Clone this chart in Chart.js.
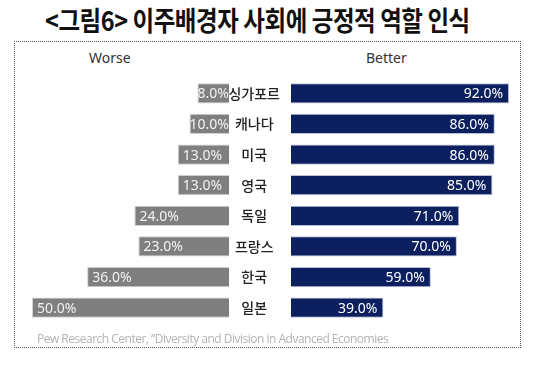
<!DOCTYPE html>
<html>
<head>
<meta charset="utf-8">
<script src="https://cdn.jsdelivr.net/npm/chart.js@4"></script>
<style>
  body { margin: 0; width: 541px; height: 367px; background: #fff; position: relative; overflow: hidden; font-family: "Noto Sans CJK KR", "Noto Sans", sans-serif; }
  #title { position: absolute; left: 45px; top: 0px; font-size: 27px; font-weight: 700; color: #111; white-space: nowrap; transform-origin: left top; transform: scaleX(0.87); letter-spacing: -0.5px; }
  #box { position: absolute; left: 14px; top: 41px; width: 505px; height: 305px; border: 1px dotted #555; }
  .head { position: absolute; top: 48px; font-family: "Noto Sans", sans-serif; font-size: 14px; color: #333; }
  #src { position: absolute; left: 37px; top: 330px; font-family: "Open Sans", sans-serif; font-size: 12px; color: #b3b3b3; letter-spacing: -0.5px; white-space: nowrap; }
  canvas { position: absolute; }
</style>
</head>
<body>
<div id="title">&lt;그림6&gt; 이주배경자 사회에 긍정적 역할 인식</div>
<div id="box"></div>
<div class="head" style="left:89px">Worse</div>
<div class="head" style="left:366px">Better</div>
<canvas id="leftChart" width="197" height="245" style="left:32px;top:78px"></canvas>
<canvas id="rightChart" width="299" height="265" style="left:229px;top:68px"></canvas>
<div id="src">Pew Research Center, “Diversity and Division in Advanced Economies</div>
<script>
// 데이터
const categories = ['싱가포르', '캐나다', '미국', '영국', '독일', '프랑스', '한국', '일본'];
const worse = [8, 10, 13, 13, 24, 23, 36, 50];
const better = [92, 86, 86, 85, 71, 70, 59, 39];

// 막대 안쪽에 값 표시
const valueLabels = {
    id: 'valueLabels',
    afterDatasetsDraw(chart) {
        const ctx = chart.ctx;
        const side = chart.options.plugins.valueLabels.side;
        const meta = chart.getDatasetMeta(0);
        ctx.save();
        ctx.font = '14px "Noto Sans", sans-serif';
        ctx.textBaseline = 'middle';
        meta.data.forEach((bar, i) => {
            const txt = chart.data.datasets[0].data[i].toFixed(1) + '%';
            const w = ctx.measureText(txt).width;
            ctx.textAlign = 'left';
            if (side === 'left') {
                ctx.fillStyle = '#f2f2f2';
                const x = Math.min(bar.x + 5, bar.base - w);
                ctx.fillText(txt, x, bar.y + 1);
            } else {
                ctx.fillStyle = '#ffffff';
                ctx.fillText(txt, bar.x - 6 - w, bar.y + 1);
            }
        });
        ctx.restore();
    }
};

const common = {
    indexAxis: 'y',
    responsive: false,
    animation: false,
    layout: { padding: 0 },
};

new Chart(document.getElementById('leftChart').getContext('2d'), {
    type: 'bar',
    data: {
        labels: categories,
        datasets: [{
            data: worse,
            backgroundColor: '#7f7f7f',
            borderColor: '#d0d0d0',
            borderWidth: 1,
            barPercentage: 0.66,
            categoryPercentage: 1
        }]
    },
    options: {
        ...common,
        scales: {
            x: { reverse: true, min: 0, max: 50, display: false },
            y: { display: false }
        },
        plugins: {
            legend: { display: false },
            tooltip: { enabled: false },
            valueLabels: { side: 'left' }
        }
    },
    plugins: [valueLabels]
});

new Chart(document.getElementById('rightChart').getContext('2d'), {
    type: 'bar',
    data: {
        labels: categories,
        datasets: [{
            data: better,
            backgroundColor: '#0c1f5f',
            borderColor: '#b8c0d8',
            borderWidth: 1,
            barPercentage: 0.66,
            categoryPercentage: 1
        }]
    },
    options: {
        ...common,
        scales: {
            x: { min: 0, max: 100, display: false },
            y: {
                grid: { display: false },
                border: { display: false },
                afterFit: scale => { scale.width = 62; },
                ticks: {
                    crossAlign: 'center',
                    padding: 3,
                    color: '#222',
                    font: { family: '"Noto Sans CJK KR"', size: 14, weight: '500', lineHeight: 1 }
                }
            }
        },
        plugins: {
            legend: { display: false },
            tooltip: { enabled: false },
            valueLabels: { side: 'right' }
        }
    },
    plugins: [valueLabels]
});
</script>
</body>
</html>
